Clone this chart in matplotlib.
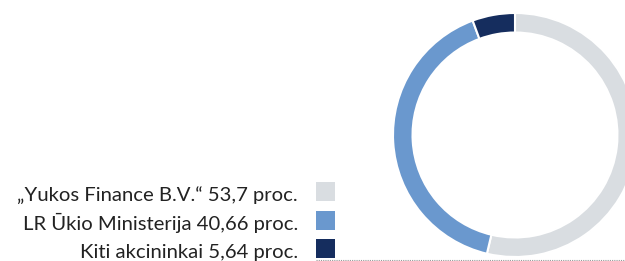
import matplotlib.pyplot as plt
from matplotlib.patches import Rectangle
from matplotlib.lines import Line2D

# Shareholder structure
labels = ['„Yukos Finance B.V.“', 'LR Ūkio Ministerija', 'Kiti akcininkai']
values = [53.7, 40.66, 5.64]
value_text = ['53,7', '40,66', '5,64']
colors = ['#D9DDE1', '#6A98CE', '#152D5E']

W, H = 625, 261
fig = plt.figure(figsize=(W / 100, H / 100), dpi=100)
plt.rcParams['font.family'] = ['Lato', 'DejaVu Sans']

# donut: centre ~ (515, 135) px, outer radius ~122 px
cx, cy, R = 515, 135, 122
ax = fig.add_axes([(cx - R) / W, (H - cy - R) / H, 2 * R / W, 2 * R / H])
ax.pie(values, colors=colors, startangle=90, counterclock=False, radius=1,
       wedgeprops=dict(width=0.16, edgecolor='white', linewidth=1.5))
ax.set_xlim(-1, 1)
ax.set_ylim(-1, 1)
ax.axis('off')

# legend drawn by hand: right-aligned text, square swatch on the right
baselines = [201, 230, 258]
for lab, vt, col, yb in zip(labels, value_text, colors, baselines):
    fig.text(298 / W, (H - yb) / H, f'{lab} {vt} proc.', ha='right', va='baseline',
             fontsize=14.6, color='#222222')
    fig.add_artist(Rectangle((316 / W, (H - yb + 0.5) / H), 19 / W, 19 / H,
                             transform=fig.transFigure, facecolor=col, edgecolor='none'))

# dotted baseline
fig.add_artist(Line2D([316 / W, 1], [(H - 259.5) / H] * 2, transform=fig.transFigure,
                      color='#999999', linewidth=0.8, linestyle=(0, (1, 1))))

fig.savefig('out.png', dpi=100)
